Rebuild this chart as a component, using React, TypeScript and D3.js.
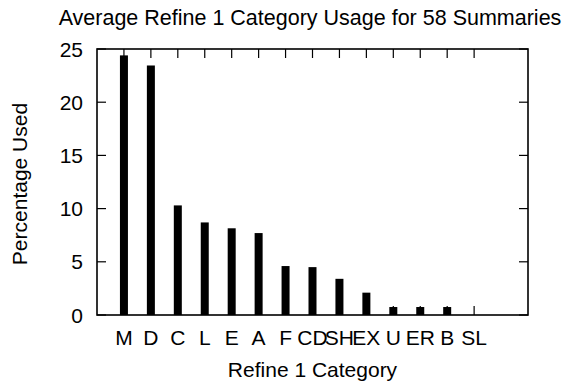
import React, { useRef, useEffect } from "react";
import * as d3 from "d3";

const categories = ["M", "D", "C", "L", "E", "A", "F", "CD", "SH", "EX", "U", "ER", "B", "SL"];
const usage = [24.4, 23.45, 10.3, 8.7, 8.15, 7.7, 4.6, 4.5, 3.4, 2.1, 0.75, 0.75, 0.75, 0];
const yTicks = [0, 5, 10, 15, 20, 25];

export default function App() {
  const svgRef = useRef<SVGSVGElement>(null);

  useEffect(() => {
    const W = 573, H = 383;
    const svg = d3.select(svgRef.current);
    svg.selectAll("*").remove();

    const margin = { top: 49, right: 45, bottom: 68, left: 97 };
    const innerW = W - margin.left - margin.right;
    const innerH = H - margin.top - margin.bottom;
    const font = "'Liberation Sans', Arial, Helvetica, sans-serif";

    const g = svg.append("g")
      .attr("transform", `translate(${margin.left},${margin.top})`);

    // x is a linear scale, categories sit at 1..n, axis runs 0..n+2
    const x = d3.scaleLinear()
      .domain([0, categories.length + 2])
      .range([0, innerW]);

    const y = d3.scaleLinear()
      .domain([0, 25])
      .range([innerH, 0]);

    const tickLen = 9;
    const idx = categories.map((_, i) => i + 1);

    // bars
    g.selectAll(".bar")
      .data(usage)
      .join("rect")
        .attr("class", "bar")
        .attr("x", (_, i) => x(i + 1) - 4)
        .attr("y", d => y(d))
        .attr("width", 8)
        .attr("height", d => innerH - y(d))
        .attr("fill", "#000");

    // ticks, mirrored on all sides, pointing inward
    g.selectAll(".xt-top")
      .data(idx)
      .join("line")
        .attr("x1", d => x(d)).attr("x2", d => x(d))
        .attr("y1", 0).attr("y2", tickLen)
        .attr("stroke", "#000").attr("stroke-width", 1.2);
    g.selectAll(".xt-bot")
      .data(idx)
      .join("line")
        .attr("x1", d => x(d)).attr("x2", d => x(d))
        .attr("y1", innerH).attr("y2", innerH - tickLen)
        .attr("stroke", "#000").attr("stroke-width", 1.2);
    g.selectAll(".yt-left")
      .data(yTicks)
      .join("line")
        .attr("x1", 0).attr("x2", tickLen)
        .attr("y1", d => y(d)).attr("y2", d => y(d))
        .attr("stroke", "#000").attr("stroke-width", 1.2);
    g.selectAll(".yt-right")
      .data(yTicks)
      .join("line")
        .attr("x1", innerW).attr("x2", innerW - tickLen)
        .attr("y1", d => y(d)).attr("y2", d => y(d))
        .attr("stroke", "#000").attr("stroke-width", 1.2);

    // frame
    g.append("rect")
      .attr("x", 0).attr("y", 0)
      .attr("width", innerW).attr("height", innerH)
      .attr("fill", "none")
      .attr("stroke", "#000")
      .attr("stroke-width", 1.6);

    // tick labels
    g.selectAll(".ylab")
      .data(yTicks)
      .join("text")
        .attr("x", -14)
        .attr("y", d => y(d))
        .attr("dy", "0.36em")
        .attr("text-anchor", "end")
        .attr("font-size", "21px")
        .attr("font-family", font)
        .attr("fill", "#000")
        .text(d => d);

    g.selectAll(".xlab")
      .data(categories)
      .join("text")
        .attr("x", (_, i) => x(i + 1))
        .attr("y", innerH + 30)
        .attr("text-anchor", "middle")
        .attr("font-size", "21px")
        .attr("font-family", font)
        .attr("fill", "#000")
        .text(d => d);

    // axis titles
    svg.append("text")
      .attr("x", margin.left + innerW / 2)
      .attr("y", 377)
      .attr("text-anchor", "middle")
      .attr("font-size", "21px")
      .attr("font-family", font)
      .attr("fill", "#000")
      .text("Refine 1 Category");

    svg.append("text")
      .attr("transform", "rotate(-90)")
      .attr("x", -184)
      .attr("y", 27)
      .attr("text-anchor", "middle")
      .attr("font-size", "21px")
      .attr("font-family", font)
      .attr("fill", "#000")
      .text("Percentage Used");

    svg.append("text")
      .attr("x", 310)
      .attr("y", 25)
      .attr("text-anchor", "middle")
      .attr("font-size", "21.5px")
      .attr("font-family", font)
      .attr("fill", "#000")
      .text("Average Refine 1 Category Usage for 58 Summaries");
  }, []);

  return (
    <svg
      ref={svgRef}
      width={573}
      height={383}
      style={{ position: "absolute", left: 0, top: 0, background: "#fff" }}
    />
  );
}
